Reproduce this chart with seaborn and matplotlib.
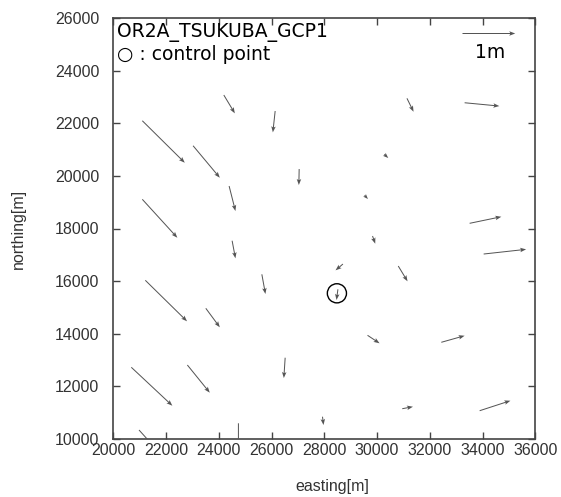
import matplotlib
matplotlib.use("Agg")
import matplotlib.pyplot as plt
import seaborn as sns
import pandas as pd
import numpy as np

# ---- data (easting/northing of arrow tails in m, displacement in m) ----
x_east = [21100, 23025, 24190, 26137, 27047, 24391, 21100, 24505,
          31134, 33320, 30273, 29525, 29829, 33510, 34042,
          21214, 23507, 25632, 26516, 20683, 22808, 20975, 24744, 27932,
          28706, 30804, 28516, 29639, 32436, 30956, 33890]
y_north = [22095, 21145, 23072, 22464, 20260, 19614, 19109, 17535,
           22947, 22779, 20819, 19261, 17714, 18197, 17030,
           16031, 14967, 16259, 13089, 12725, 12812, 10342, 10597, 10847,
           16650, 16574, 15689, 13941, 13675, 11151, 11075]
u_east = [0.805, 0.507, 0.209, -0.044, -0.006, 0.120, 0.664, 0.063,
          0.125, 0.658, 0.076, 0.065, 0.051, 0.601, 0.805,
          0.791, 0.266, 0.068, -0.025, 0.778, 0.425, 0.450, 0.000, 0.019,
          -0.140, 0.176, -0.027, 0.228, 0.442, 0.203, 0.583]
v_north = [-0.798, -0.608, -0.348, -0.405, -0.304, -0.475, -0.730, -0.334,
           -0.255, -0.063, -0.070, -0.070, -0.146, 0.125, 0.089,
           -0.779, -0.361, -0.374, -0.386, -0.730, -0.526, -0.500, -0.500, -0.158,
           -0.120, -0.291, -0.203, -0.152, 0.125, 0.038, 0.190]

cp_x = [28478]
cp_y = [15537]

x_ticks = [20000, 22000, 24000, 26000, 28000, 30000, 32000, 34000, 36000]
y_ticks = [10000, 12000, 14000, 16000, 18000, 20000, 22000, 24000, 26000]

scale_x = [33233]
scale_y = [25428]
scale_u = [1.0]
scale_v = [0.0]

title_text = "OR2A_TSUKUBA_GCP1"
legend_text = "\u25cb : control point"
scale_text = "1m"
m_to_units = 2000.0  # 1 m displacement drawn as 2000 m on the map

sns.set_style("ticks")
plt.rcParams['font.family'] = ['Liberation Sans', 'DejaVu Sans']

fig = plt.figure(figsize=(5.61, 4.97), dpi=100)
ax = fig.add_axes([113.3 / 561, 1 - 439 / 497, 422 / 561, 421 / 497])

arrow_color = "#555555"
quiv_kw = dict(angles='xy', scale_units='xy', scale=1.0 / m_to_units,
               units='dots', width=1.0, headwidth=4.5, headlength=6,
               headaxislength=5, color=arrow_color, zorder=3)

df = pd.DataFrame({"x": x_east, "y": y_north, "u": u_east, "v": v_north})
ax.quiver(df["x"], df["y"], df["u"], df["v"], **quiv_kw)

# control point
cp = pd.DataFrame({"x": cp_x, "y": cp_y})
sns.scatterplot(data=cp, x="x", y="y", ax=ax, marker="o", s=190,
                facecolor="none", edgecolor="black", linewidth=1.0, zorder=4)

# scale arrow
ax.quiver(scale_x, scale_y, scale_u, scale_v, clip_on=False, **quiv_kw)

ax.set_xlim(20000, 36000)
ax.set_ylim(10000, 26000)
ax.set_xticks(x_ticks)
ax.set_yticks(y_ticks)
ax.set_xticklabels([str(t) for t in x_ticks])
ax.set_yticklabels([str(t) for t in y_ticks])

ax.tick_params(axis='both', which='major', direction='in', length=5, width=1,
               color='#444444', labelsize=11.5, labelcolor='#333333',
               top=True, right=True)
ax.tick_params(axis='x', pad=3)
ax.tick_params(axis='y', pad=10)
for s in ax.spines.values():
    s.set_visible(True)
    s.set_color('#444444')
    s.set_linewidth(1.2)

ax.set_xlabel("easting[m]", fontsize=11.5, color='#333333')
ax.set_ylabel("northing[m]", fontsize=11.5, color='#333333')
ax.xaxis.label.set_va('center')
ax.yaxis.label.set_va('center')
ax.xaxis.set_label_coords(0.52, -0.113)
ax.yaxis.set_label_coords(-0.226, 0.5)

ax.text(0.008, 0.988, title_text, transform=ax.transAxes, ha='left', va='top',
        fontsize=13.5, family=['DejaVu Sans'], color='black')
ax.text(0.008, 0.936, legend_text, transform=ax.transAxes, ha='left', va='top',
        fontsize=13.5, family=['DejaVu Sans'], color='black')
ax.text(0.894, 0.94, scale_text, transform=ax.transAxes, ha='center', va='top',
        fontsize=13.5, family=['DejaVu Sans'], color='black')

fig.savefig("out.png", dpi=100)
